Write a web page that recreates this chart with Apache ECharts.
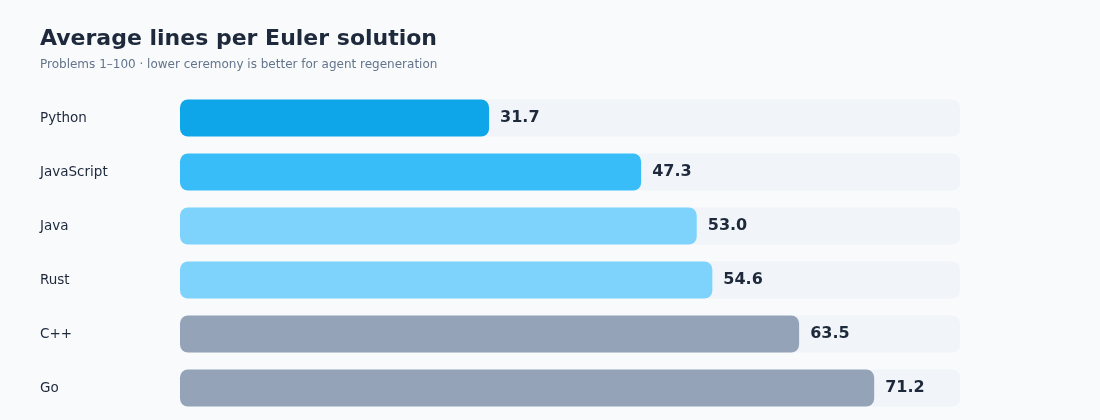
<!DOCTYPE html>
<html>
<head>
<meta charset="utf-8">
<script src="https://cdn.jsdelivr.net/npm/echarts@6/dist/echarts.min.js"></script>
<style>
  html, body { margin: 0; padding: 0; background: #f8fafc; }
  #chart { width: 1100px; height: 420px; }
</style>
</head>
<body>
<div id="chart"></div>
<script>
const languages = ['Python', 'JavaScript', 'Java', 'Rust', 'C++', 'Go']
const avgLines = [31.7, 47.3, 53.0, 54.6, 63.5, 71.2]
const barColors = ['#0ea5e9', '#38bdf8', '#7dd3fc', '#7dd3fc', '#94a3b8', '#94a3b8']

const chart = echarts.init(document.getElementById('chart'))

const option = {
  backgroundColor: '#f8fafc',
  textStyle: { fontFamily: 'DejaVu Sans' },
  title: {
    text: 'Average lines per Euler solution',
    subtext: 'Problems 1–100 · lower ceremony is better for agent regeneration',
    left: 35,
    top: 23,
    itemGap: 9,
    textStyle: { fontSize: 22, fontWeight: 'bold', color: '#1e293b' },
    subtextStyle: { fontSize: 12, color: '#64748b' }
  },
  grid: { left: 180, right: 140, top: 91, bottom: 5 },
  xAxis: {
    type: 'value',
    min: 0,
    max: 80,
    show: false
  },
  yAxis: {
    type: 'category',
    inverse: true,
    data: languages,
    axisLine: { show: false },
    axisTick: { show: false },
    axisLabel: {
      align: 'left',
      margin: 140,
      fontSize: 13.5,
      color: '#1e293b'
    }
  },
  series: [
    {
      type: 'bar',
      barWidth: 37,
      showBackground: true,
      backgroundStyle: { color: '#f1f5f9', borderRadius: 8 },
      data: avgLines.map((v, i) => ({
        value: v,
        itemStyle: { color: barColors[i], borderRadius: 8 }
      })),
      label: {
        show: true,
        position: 'right',
        distance: 11,
        fontSize: 16,
        fontWeight: 'bold',
        color: '#1e293b',
        formatter: (p) => p.value.toFixed(1)
      }
    }
  ]
}

chart.setOption(option)
</script>
</body>
</html>
